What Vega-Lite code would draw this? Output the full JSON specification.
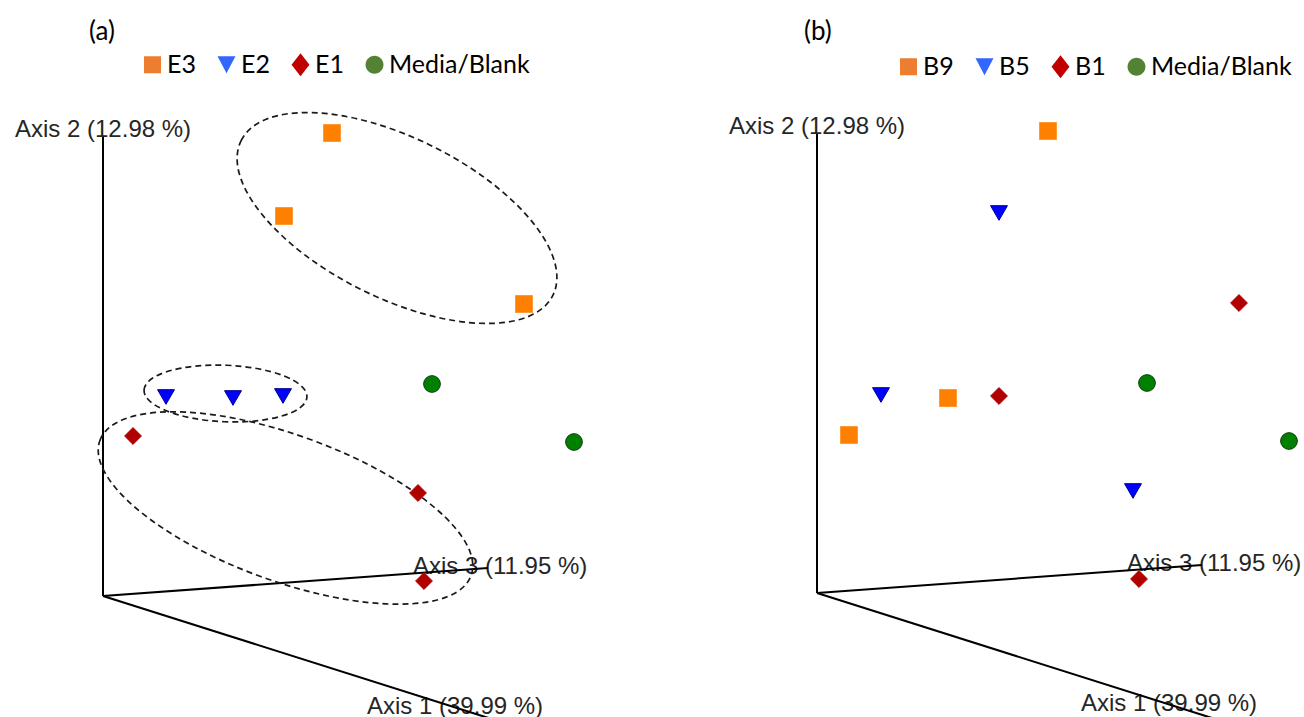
{
  "$schema": "https://vega.github.io/schema/vega-lite/v6.json",
  "padding": 0,
  "spacing": 0,
  "bounds": "flush",
  "background": "white",
  "config": {"view": {"stroke": null}},
  "datasets": {
    "pcoaA": [
      {"group": "E3", "x": 229, "y": 463},
      {"group": "E3", "x": 181, "y": 380},
      {"group": "E3", "x": 421, "y": 292},
      {"group": "E2", "x": 63, "y": 199},
      {"group": "E2", "x": 130, "y": 198},
      {"group": "E2", "x": 180, "y": 200},
      {"group": "E1", "x": 30, "y": 160},
      {"group": "E1", "x": 315, "y": 103},
      {"group": "E1", "x": 321, "y": 15},
      {"group": "Media/Blank", "x": 329, "y": 212},
      {"group": "Media/Blank", "x": 471, "y": 154}
    ],
    "pcoaB": [
      {"group": "B9", "x": 231, "y": 462},
      {"group": "B9", "x": 131, "y": 195},
      {"group": "B9", "x": 32, "y": 158},
      {"group": "B5", "x": 182, "y": 380},
      {"group": "B5", "x": 64, "y": 198},
      {"group": "B5", "x": 316, "y": 102},
      {"group": "B1", "x": 422, "y": 290},
      {"group": "B1", "x": 182, "y": 197},
      {"group": "B1", "x": 322, "y": 14},
      {"group": "Media/Blank", "x": 330, "y": 210},
      {"group": "Media/Blank", "x": 472, "y": 152}
    ],
    "axes": [
      {"axis": "Axis 2", "x": 0, "y": 0, "x2": 0, "y2": 459},
      {"axis": "Axis 3", "x": 0, "y": 0, "x2": 385, "y2": 28},
      {"axis": "Axis 1", "x": 0, "y": 0, "x2": 395, "y2": -125}
    ],
    "axisLabels": [
      {"label": "Axis 2 (12.98 %)", "x": -88, "y": 459},
      {"label": "Axis 3 (11.95 %)", "x": 310, "y": 22},
      {"label": "Axis 1 (39.99 %)", "x": 264, "y": -118}
    ]
  },
  "hconcat": [
    {
      "width": 652,
      "height": 717,
      "encoding": {
        "x": {"field": "x", "type": "quantitative", "scale": {"domain": [-103, 549], "nice": false, "zero": false}, "axis": null},
        "y": {"field": "y", "type": "quantitative", "scale": {"domain": [-121, 596], "nice": false, "zero": false}, "axis": null}
      },
      "resolve": {"scale": {"color": "independent", "fill": "independent", "stroke": "independent", "shape": "independent", "size": "independent"}},
      "layer": [
        {
          "data": {"name": "axisLabels"},
          "mark": {"type": "text", "align": "left", "baseline": "alphabetic", "font": "Liberation Sans", "fontSize": 24, "color": "#262626"},
          "encoding": {"text": {"field": "label", "type": "nominal"}}
        },
        {
          "data": {"name": "axes"},
          "mark": {"type": "rule", "color": "black", "strokeWidth": 2},
          "encoding": {"x2": {"field": "x2"}, "y2": {"field": "y2"}}
        },
        {
          "data": {"values": [{"label": "(a)", "x": -14, "y": 556}]},
          "mark": {"type": "text", "align": "left", "baseline": "alphabetic", "font": "Lato", "fontSize": 26, "color": "black"},
          "encoding": {"text": {"field": "label", "type": "nominal"}}
        },
        {
          "data": {"values": [{"cluster": "E3", "x": 294, "y": 378}]},
          "mark": {"type": "point", "filled": false, "opacity": 1, "stroke": "#1a1a1a", "strokeWidth": 1.7, "strokeDash": [6, 4], "size": 121104, "angle": 26.4,
            "shape": "M-1,0C-1,-0.254,-0.552,-0.46,0,-0.46C0.552,-0.46,1,-0.254,1,0C1,0.254,0.552,0.46,0,0.46C-0.552,0.46,-1,0.254,-1,0Z"}
        },
        {
          "data": {"values": [{"cluster": "E2", "x": 122.5, "y": 202.5}]},
          "mark": {"type": "point", "filled": false, "opacity": 1, "stroke": "#1a1a1a", "strokeWidth": 1.7, "strokeDash": [6, 4], "size": 26569, "angle": 2.4,
            "shape": "M-1,0C-1,-0.192,-0.552,-0.347,0,-0.347C0.552,-0.347,1,-0.192,1,0C1,0.192,0.552,0.347,0,0.347C-0.552,0.347,-1,0.192,-1,0Z"}
        },
        {
          "data": {"values": [{"cluster": "E1", "x": 182.5, "y": 88}]},
          "mark": {"type": "point", "filled": false, "opacity": 1, "stroke": "#1a1a1a", "strokeWidth": 1.7, "strokeDash": [6, 4], "size": 156025, "angle": 20,
            "shape": "M-1,0C-1,-0.204,-0.552,-0.369,0,-0.369C0.552,-0.369,1,-0.204,1,0C1,0.204,0.552,0.369,0,0.369C-0.552,0.369,-1,0.204,-1,0Z"}
        },
        {
          "data": {"name": "pcoaA"},
          "mark": {"type": "point", "filled": true, "opacity": 1, "strokeWidth": 1},
          "encoding": {
            "fill": {"field": "group", "type": "nominal", "scale": {"domain": ["E3", "E2", "E1", "Media/Blank"], "range": ["#FF8000", "#0000FF", "#B00000", "#008000"]}, "legend": null},
            "stroke": {"field": "group", "type": "nominal", "scale": {"domain": ["E3", "E2", "E1", "Media/Blank"], "range": ["#FF9933", "#00008B", "#B00000", "#0B3D0B"]}, "legend": null},
            "shape": {"field": "group", "type": "nominal", "scale": {"domain": ["E3", "E2", "E1", "Media/Blank"], "range": ["square", "triangle-down", "diamond", "circle"]}, "legend": null},
            "size": {"field": "group", "type": "ordinal", "scale": {"domain": ["E3", "E2", "E1", "Media/Blank"], "range": [289, 280, 280, 210]}, "legend": null}
          }
        },
        {
          "data": {"name": "pcoaA"},
          "transform": [{"filter": "false"}],
          "mark": {"type": "point", "filled": true, "opacity": 1},
          "encoding": {
            "color": {"field": "group", "type": "nominal", "scale": {"domain": ["E3", "E2", "E1", "Media/Blank"], "range": ["#ED7D31", "#3366FF", "#C00000", "#548235"]},
              "legend": {"orient": "none", "legendX": 140, "legendY": 52, "direction": "horizontal", "columns": 4, "title": null, "symbolSize": 529, "symbolStrokeWidth": 0, "labelOffset": 2, "columnPadding": 18, "padding": 0, "labelFont": "Lato", "labelFontSize": 25, "labelColor": "black", "labelLimit": 300, "labelExpr": "datum.label === 'E1' ? 'E1   ' : datum.label"}},
            "shape": {"field": "group", "type": "nominal", "scale": {"domain": ["E3", "E2", "E1", "Media/Blank"], "range": ["M-0.74,-0.74H0.74V0.74H-0.74Z", "M-0.78,-0.74H0.78L0,0.74Z", "M0,-1L0.78,0L0,1L-0.78,0Z", "M-0.78,0C-0.78,-0.431,-0.431,-0.78,0,-0.78C0.431,-0.78,0.78,-0.431,0.78,0C0.78,0.431,0.431,0.78,0,0.78C-0.431,0.78,-0.78,0.431,-0.78,0Z"]},
              "legend": {"orient": "none", "legendX": 140, "legendY": 52, "direction": "horizontal", "columns": 4, "title": null, "symbolSize": 529, "symbolStrokeWidth": 0, "labelOffset": 2, "columnPadding": 18, "padding": 0, "labelFont": "Lato", "labelFontSize": 25, "labelColor": "black", "labelLimit": 300, "labelExpr": "datum.label === 'E1' ? 'E1   ' : datum.label"}}
          }
        }
      ]
    },
    {
      "width": 652,
      "height": 717,
      "encoding": {
        "x": {"field": "x", "type": "quantitative", "scale": {"domain": [-165, 487], "nice": false, "zero": false}, "axis": null},
        "y": {"field": "y", "type": "quantitative", "scale": {"domain": [-124, 593], "nice": false, "zero": false}, "axis": null}
      },
      "resolve": {"scale": {"color": "independent", "fill": "independent", "stroke": "independent", "shape": "independent", "size": "independent"}},
      "layer": [
        {
          "data": {"name": "axisLabels"},
          "mark": {"type": "text", "align": "left", "baseline": "alphabetic", "font": "Liberation Sans", "fontSize": 24, "color": "#262626"},
          "encoding": {"text": {"field": "label", "type": "nominal"}}
        },
        {
          "data": {"name": "axes"},
          "mark": {"type": "rule", "color": "black", "strokeWidth": 2},
          "encoding": {"x2": {"field": "x2"}, "y2": {"field": "y2"}}
        },
        {
          "data": {"values": [{"label": "(b)", "x": -13, "y": 553}]},
          "mark": {"type": "text", "align": "left", "baseline": "alphabetic", "font": "Lato", "fontSize": 26, "color": "black"},
          "encoding": {"text": {"field": "label", "type": "nominal"}}
        },
        {
          "data": {"name": "pcoaB"},
          "mark": {"type": "point", "filled": true, "opacity": 1, "strokeWidth": 1},
          "encoding": {
            "fill": {"field": "group", "type": "nominal", "scale": {"domain": ["B9", "B5", "B1", "Media/Blank"], "range": ["#FF8000", "#0000FF", "#B00000", "#008000"]}, "legend": null},
            "stroke": {"field": "group", "type": "nominal", "scale": {"domain": ["B9", "B5", "B1", "Media/Blank"], "range": ["#FF9933", "#00008B", "#B00000", "#0B3D0B"]}, "legend": null},
            "shape": {"field": "group", "type": "nominal", "scale": {"domain": ["B9", "B5", "B1", "Media/Blank"], "range": ["square", "triangle-down", "diamond", "circle"]}, "legend": null},
            "size": {"field": "group", "type": "ordinal", "scale": {"domain": ["B9", "B5", "B1", "Media/Blank"], "range": [289, 280, 280, 210]}, "legend": null}
          }
        },
        {
          "data": {"name": "pcoaB"},
          "transform": [{"filter": "false"}],
          "mark": {"type": "point", "filled": true, "opacity": 1},
          "encoding": {
            "color": {"field": "group", "type": "nominal", "scale": {"domain": ["B9", "B5", "B1", "Media/Blank"], "range": ["#ED7D31", "#3366FF", "#C00000", "#548235"]},
              "legend": {"orient": "none", "legendX": 244, "legendY": 54, "direction": "horizontal", "columns": 4, "title": null, "symbolSize": 529, "symbolStrokeWidth": 0, "labelOffset": 2, "columnPadding": 18, "padding": 0, "labelFont": "Lato", "labelFontSize": 25, "labelColor": "black", "labelLimit": 300, "labelExpr": "datum.label === 'B1' ? 'B1   ' : datum.label"}},
            "shape": {"field": "group", "type": "nominal", "scale": {"domain": ["B9", "B5", "B1", "Media/Blank"], "range": ["M-0.74,-0.74H0.74V0.74H-0.74Z", "M-0.78,-0.74H0.78L0,0.74Z", "M0,-1L0.78,0L0,1L-0.78,0Z", "M-0.78,0C-0.78,-0.431,-0.431,-0.78,0,-0.78C0.431,-0.78,0.78,-0.431,0.78,0C0.78,0.431,0.431,0.78,0,0.78C-0.431,0.78,-0.78,0.431,-0.78,0Z"]},
              "legend": {"orient": "none", "legendX": 244, "legendY": 54, "direction": "horizontal", "columns": 4, "title": null, "symbolSize": 529, "symbolStrokeWidth": 0, "labelOffset": 2, "columnPadding": 18, "padding": 0, "labelFont": "Lato", "labelFontSize": 25, "labelColor": "black", "labelLimit": 300, "labelExpr": "datum.label === 'B1' ? 'B1   ' : datum.label"}}
          }
        }
      ]
    }
  ]
}
